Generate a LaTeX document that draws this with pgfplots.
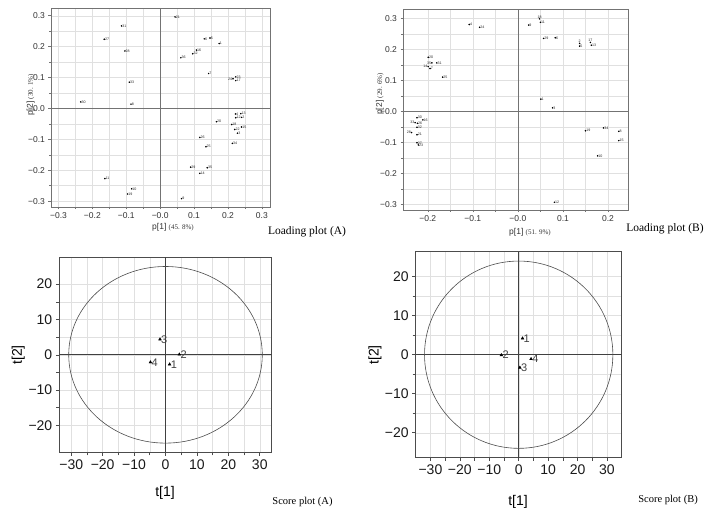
\documentclass[border=0pt]{standalone}
\usepackage{fontspec}
\setmainfont{Liberation Sans}
\newfontfamily\tnr{Liberation Serif}
\usepackage{pgfplots}
\pgfplotsset{compat=1.18}
\usepackage{pgfplotstable}

\pgfplotstableread{
x y lab
-0.114 0.267 31
-0.165 0.224 27
-0.104 0.186 28
-0.091 0.085 33
-0.234 0.021 30
-0.086 0.014 8
0.044 0.296 21
0.130 0.225 6
0.147 0.228 5
0.174 0.210 1
0.107 0.189 16
0.096 0.177 32
0.061 0.164 36
0.143 0.113 7
0.223 0.102 23
0.223 0.090 17
0.222 -0.018 4
0.238 -0.017 13
0.223 -0.030 12
0.240 -0.029 2
0.166 -0.043 20
0.211 -0.052 18
0.240 -0.060 15
0.220 -0.068 22
0.228 -0.080 3
0.213 -0.113 34
0.117 -0.094 26
0.135 -0.124 25
0.090 -0.190 29
0.139 -0.192 35
0.117 -0.210 14
-0.163 -0.227 11
-0.084 -0.260 10
-0.096 -0.277 19
0.063 -0.292 9
}\loadA
\pgfplotstableread{
x y lab
0.215 0.096 24
}\loadAe

\pgfplotstableread{
x y lab
-0.108 0.281 4
-0.085 0.272 24
0.024 0.279 9
0.050 0.288 11
0.057 0.236 29
0.083 0.238 6
0.137 0.211 5
0.163 0.214 13
0.051 0.040 1
0.077 0.012 3
-0.199 0.175 20
-0.180 0.157 31
-0.195 0.139 7
-0.167 0.111 25
-0.224 -0.020 30
-0.211 -0.027 16
-0.223 -0.038 26
-0.224 -0.051 32
-0.224 -0.075 21
-0.224 -0.101 27
-0.221 -0.108 23
0.150 -0.062 19
0.190 -0.053 34
0.224 -0.064 8
0.224 -0.094 15
0.177 -0.143 10
0.081 -0.293 12
}\loadB
\pgfplotstableread{
x y lab
-0.191 0.157 35
-0.199 0.145 14
-0.228 -0.036 33
-0.236 -0.068 28
}\loadBe
\pgfplotstableread{
x y lab
0.048 0.299 18
0.137 0.220 2
0.161 0.223 17
}\loadBn

\pgfplotstableread{
x y lab
1.3 -2.7 1
4.4 0.1 2
-1.75 4.4 3
-4.8 -2.1 4
}\scoreA

\pgfplotstableread{
x y lab
1.3 4.2 1
-5.9 -0.1 2
0.4 -3.3 3
4.2 -1.1 4
}\scoreB

\begin{document}
\begin{tikzpicture}
\pgfplotsset{
  loading/.style={
    scale only axis, anchor=south west, clip=false,
    tick pos=left, tick align=outside,
    grid=both, minor tick num=1,
    major grid style={black!12, line width=0.4pt},
    minor grid style={black!12, line width=0.4pt},
    axis line style={draw=black!55, line width=0.7pt},
    major tick length=2.5pt, minor tick length=1.8pt,
    every tick/.style={black!55, line width=0.5pt},
    ticklabel style={font=\fontsize{8.5}{9}\selectfont, text=black!80},
    /pgf/number format/assume math mode=true,
  },
  score/.style={
    scale only axis, anchor=south west,
    tick pos=left, tick align=outside,
    grid=both, minor tick num=1,
    major grid style={black!12, line width=0.4pt},
    minor grid style={black!12, line width=0.4pt},
    axis line style={draw=black!70, line width=0.9pt},
    major tick length=3.5pt, minor tick length=3pt,
    every tick/.style={black!70, line width=0.6pt},
    ticklabel style={font=\fontsize{14}{15}\selectfont, text=black!90},
    /pgf/number format/assume math mode=true,
    xtick={-30,-20,-10,0,10,20,30},
    xticklabels={−30,−20,−10,0,10,20,30},
    ytick={-20,-10,0,10,20},
    yticklabels={−20,−10,0,10,20},
  },
  lblW/.style={only marks, mark=*, mark size=0.55pt, black,
    nodes near coords, point meta=explicit symbolic,
    nodes near coords style={anchor=west, font=\fontsize{3.6}{4}\selectfont, inner sep=0.6pt, text=black!85}},
  lblE/.style={only marks, mark=*, mark size=0.55pt, black,
    nodes near coords, point meta=explicit symbolic,
    nodes near coords style={anchor=east, font=\fontsize{3.6}{4}\selectfont, inner sep=0.6pt, text=black!85}},
  lblN/.style={only marks, mark=*, mark size=0.55pt, black,
    nodes near coords, point meta=explicit symbolic,
    nodes near coords style={anchor=south, font=\fontsize{3.6}{4}\selectfont, inner sep=0.4pt, text=black!85}},
}

% ---------- Loading plot (A)
\begin{axis}[loading, at={(51pt,310pt)}, width=219pt, height=199pt,
  xmin=-0.322, xmax=0.324, ymin=-0.319, ymax=0.325,
  xtick={-0.3,-0.2,-0.1,0,0.1,0.2,0.3},
  xticklabels={−0.3,−0.2,−0.1,−0.0,0.1,0.2,0.3},
  ytick={-0.3,-0.2,-0.1,0,0.1,0.2,0.3},
  yticklabels={−0.3,−0.2,−0.1,−0.0,0.1,0.2,0.3}]
\draw[black!55, line width=0.7pt] (axis cs:0,-0.319) -- (axis cs:0,0.325);
\draw[black!55, line width=0.7pt] (axis cs:-0.322,0) -- (axis cs:0.324,0);
\addplot[lblW] table[x=x, y=y, meta=lab] {\loadA};
\addplot[lblE] table[x=x, y=y, meta=lab] {\loadAe};
\end{axis}

% ---------- Loading plot (B)
\begin{axis}[loading, at={(403pt,307pt)}, width=225.7pt, height=200.7pt,
  xmin=-0.255, xmax=0.246, ymin=-0.318, ymax=0.330,
  xtick={-0.2,-0.1,0,0.1,0.2},
  xticklabels={−0.2,−0.1,−0.0,0.1,0.2},
  ytick={-0.3,-0.2,-0.1,0,0.1,0.2,0.3},
  yticklabels={−0.3,−0.2,−0.1,−0.0,0.1,0.2,0.3}]
\draw[black!55, line width=0.7pt] (axis cs:0,-0.318) -- (axis cs:0,0.330);
\draw[black!55, line width=0.7pt] (axis cs:-0.255,0) -- (axis cs:0.246,0);
\addplot[lblW] table[x=x, y=y, meta=lab] {\loadB};
\addplot[lblE] table[x=x, y=y, meta=lab] {\loadBe};
\addplot[lblN] table[x=x, y=y, meta=lab] {\loadBn};
\end{axis}

% ---------- Score plot (A)
\begin{axis}[score, at={(59.3pt,64.7pt)}, width=212.4pt, height=195pt,
  xmin=-33.8, xmax=33.8, ymin=-27.6, ymax=27.6]
\draw[black!75, line width=0.8pt] (axis cs:0,-27.6) -- (axis cs:0,27.6);
\draw[black!75, line width=0.8pt] (axis cs:-33.8,0) -- (axis cs:33.8,0);
\draw[black!70, line width=0.6pt] (axis cs:0,0) ellipse [x radius=30.8, y radius=25];
\addplot[only marks, mark=triangle*, mark size=1.6pt, black,
  nodes near coords, point meta=explicit symbolic,
  nodes near coords style={anchor=west, font=\fontsize{11}{12}\selectfont, inner sep=1pt, text=black!75}]
  table[x=x, y=y, meta=lab] {\scoreA};
\end{axis}

% ---------- Score plot (B)
\begin{axis}[score, at={(415.7pt,59.3pt)}, width=206pt, height=206pt,
  xmin=-35, xmax=35, ymin=-26.4, ymax=26.4]
\draw[black!75, line width=0.8pt] (axis cs:0,-26.4) -- (axis cs:0,26.4);
\draw[black!75, line width=0.8pt] (axis cs:-35,0) -- (axis cs:35,0);
\draw[black!70, line width=0.6pt] (axis cs:0,0) ellipse [x radius=32, y radius=24];
\addplot[only marks, mark=triangle*, mark size=1.6pt, black,
  nodes near coords, point meta=explicit symbolic,
  nodes near coords style={anchor=west, font=\fontsize{11}{12}\selectfont, inner sep=1pt, text=black!75}]
  table[x=x, y=y, meta=lab] {\scoreB};
\end{axis}

% ---------- labels
\node[text=black!80] at (173pt,289.3pt) {\fontsize{8.5}{9}\selectfont p[1] {\tnr\fontsize{7}{8}\selectfont (45. 8\%)}};
\node[text=black!80, rotate=90] at (30.7pt,422pt) {\fontsize{8.5}{9}\selectfont p[2] {\tnr\fontsize{7}{8}\selectfont (30. 1\%)}};
\node at (307pt,285pt) {\tnr\fontsize{11.5}{12}\selectfont Loading plot (A)};

\node[text=black!80] at (530pt,284.3pt) {\fontsize{8.5}{9}\selectfont p[1] {\tnr\fontsize{7}{8}\selectfont (51. 9\%)}};
\node[text=black!80, rotate=90] at (380pt,423pt) {\fontsize{8.5}{9}\selectfont p[2] {\tnr\fontsize{7}{8}\selectfont (29. 6\%)}};
\node at (665pt,288pt) {\tnr\fontsize{11.5}{12}\selectfont Loading plot (B)};

\node at (165pt,24pt) {\fontsize{14}{15}\selectfont t[1]};
\node[rotate=90] at (18.3pt,162pt) {\fontsize{14}{15}\selectfont t[2]};
\node at (302.5pt,15.3pt) {\tnr\fontsize{10.5}{11}\selectfont Score plot (A)};

\node at (518pt,15.3pt) {\fontsize{14}{15}\selectfont t[1]};
\node[rotate=90] at (375pt,162pt) {\fontsize{14}{15}\selectfont t[2]};
\node at (668pt,17pt) {\tnr\fontsize{10.5}{11}\selectfont Score plot (B)};

\pgfresetboundingbox
\path[use as bounding box] (0pt,0pt) rectangle (712pt,517pt);
\end{tikzpicture}
\end{document}
